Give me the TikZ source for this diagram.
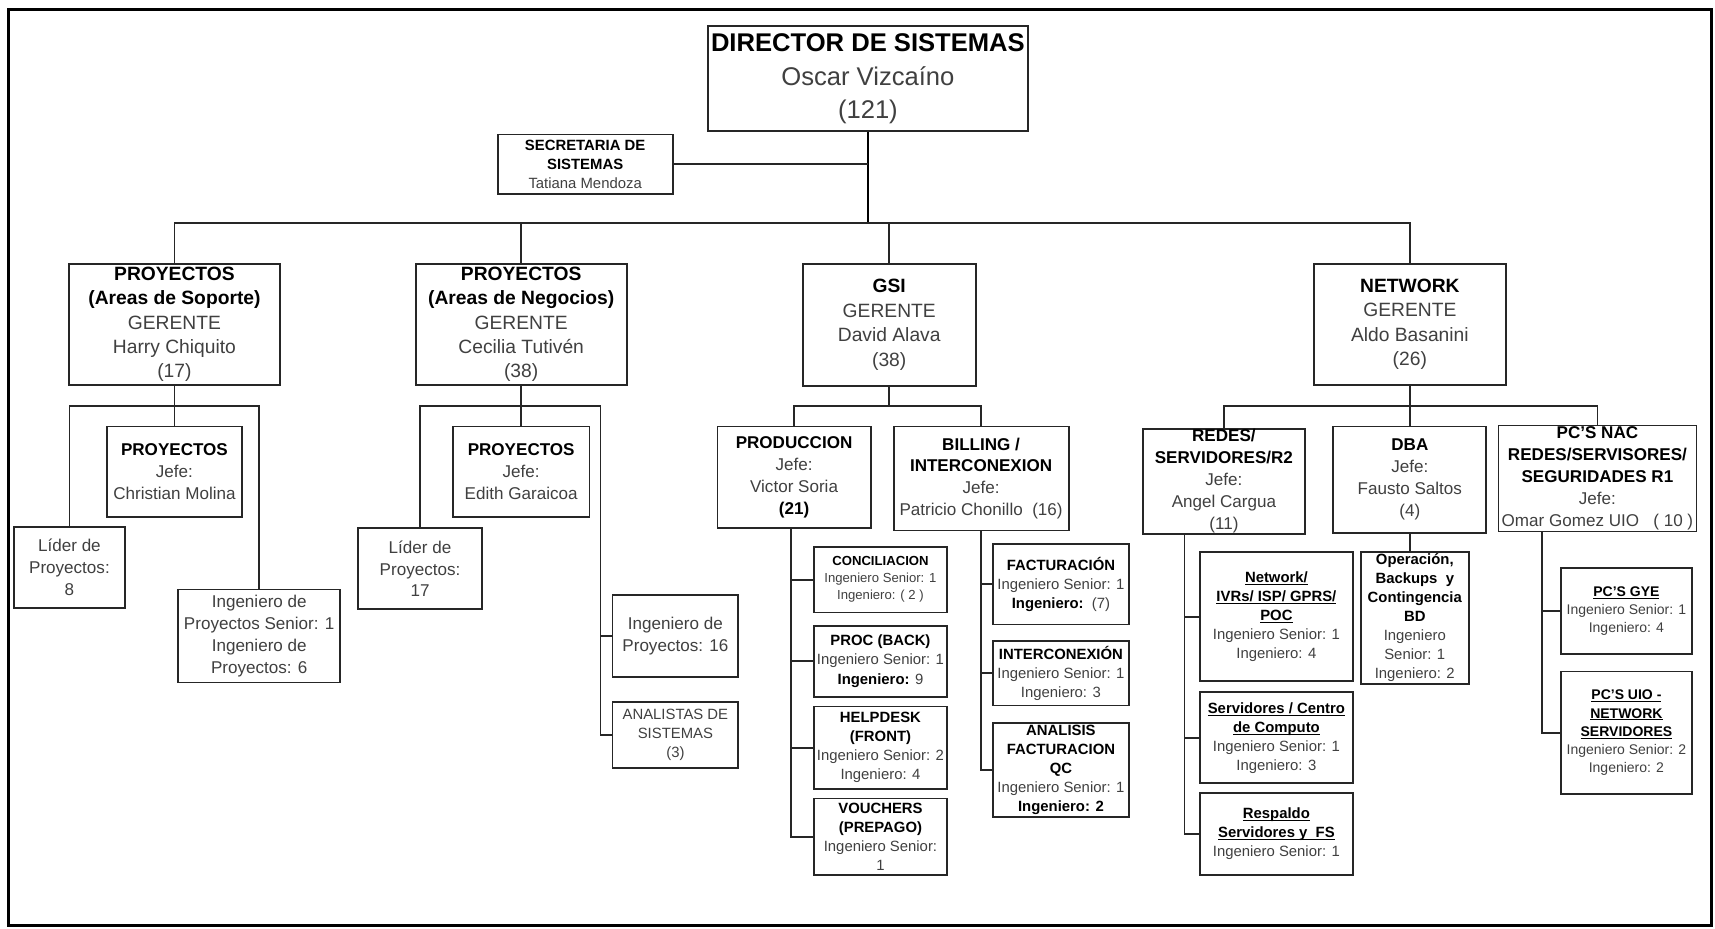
\documentclass[tikz,border=0pt]{standalone}
\usepackage{fontspec}
\setmainfont{Liberation Sans}
\newcommand{\tit}[1]{\textbf{\color{black}#1}}
\newcommand{\tul}[1]{\textbf{\color{black}\setbox0\hbox{#1}\rlap{\rule[-0.17em]{\wd0}{0.07em}}\box0}}
\tikzset{
	box/.style={draw=black!85,line width=0.85pt,fill=white,align=center,inner sep=0pt,text=black!75},
	sz/.style 2 args={minimum width=#1*0.5pt,minimum height=#2*0.5pt},
	fdir/.style={font=\fontsize{11.7}{15.2}\selectfont},
	fmgr/.style={font=\fontsize{8.8}{11.15}\selectfont},
	fjefe/.style={font=\fontsize{7.8}{10}\selectfont},
	fsub/.style={font=\fontsize{6.8}{8.7}\selectfont},
	ftiny/.style={font=\fontsize{6}{7.75}\selectfont},
	fpc/.style={font=\fontsize{6.4}{8.3}\selectfont},
	lnk/.style={draw=black!85,line width=0.85pt}
}
\begin{document}
\begin{tikzpicture}[x=0.5pt,y=-0.5pt]
	%\draw[help lines] (0,0) grid[step=100] (1568,849);
	\useasboundingbox (0,0) rectangle (1568,849);
	\draw[line width=1.4pt] (8,9) rectangle (1565,846);
	% direccion
	\node[box,fdir,sz={293}{96}] (dir) at (793.5,72) {\tit{DIRECTOR DE SISTEMAS}\\Oscar Vizcaíno\\(121)};
	\node[box,fsub,sz={160}{54}] (sec) at (535,150) {\tit{SECRETARIA DE}\\\tit{SISTEMAS}\\Tatiana Mendoza};
	% gerencias
	\node[box,fmgr,sz={193}{111}] (sop) at (159.5,296.5) {\tit{PROYECTOS}\\\tit{(Areas de Soporte)}\\GERENTE\\Harry Chiquito\\(17)};
	\node[box,fmgr,sz={193}{111}] (neg) at (476.5,296.5) {\tit{PROYECTOS}\\\tit{(Areas de Negocios)}\\GERENTE\\Cecilia Tutivén\\(38)};
	\node[box,fmgr,sz={158}{112}] (gsi) at (813,297) {\tit{GSI}\\GERENTE\\David Alava\\(38)};
	\node[box,fmgr,sz={176}{111}] (net) at (1289,296.5) {\tit{NETWORK}\\GERENTE\\Aldo Basanini\\(26)};
	% soporte
	\node[box,fjefe,sz={123}{83}] (sopjefe) at (159.5,431.5) {\tit{PROYECTOS}\\Jefe:\\Christian Molina};
	\node[box,fjefe,sz={101}{74}] (lid1) at (63.5,519) {Líder de\\Proyectos:\\8};
	\node[box,fjefe,sz={148}{85}] (ing1) at (237,581.5) {Ingeniero de\\Proyectos Senior: 1\\Ingeniero de\\Proyectos: 6};
	% negocios
	\node[box,fjefe,sz={125}{83}] (negjefe) at (476.5,431.5) {\tit{PROYECTOS}\\Jefe:\\Edith Garaicoa};
	\node[box,fjefe,sz={114}{74}] (lid2) at (384,520) {Líder de\\Proyectos:\\17};
	\node[box,fjefe,sz={115}{75}] (ing2) at (617.5,581.5) {Ingeniero de\\Proyectos: 16};
	\node[box,fsub,sz={115}{60}] (ana) at (617.5,672) {ANALISTAS DE\\SISTEMAS\\(3)};
	% gsi
	\node[box,fjefe,sz={140}{93}] (prod) at (726,436.5) {\tit{PRODUCCION}\\Jefe:\\Victor Soria\\\tit{(21)}};
	\node[box,fjefe,sz={160}{95}] (bill) at (897,437.5) {\tit{BILLING /}\\\tit{INTERCONEXION}\\Jefe:\\Patricio Chonillo~~(16)};
	\node[box,ftiny,sz={122}{60}] (conc) at (805,530) {\tit{CONCILIACION}\\Ingeniero Senior: 1\\Ingeniero: ( 2 )};
	\node[box,fsub,sz={122}{65}] (proc) at (805,604.5) {\tit{PROC (BACK)}\\Ingeniero Senior: 1\\\tit{Ingeniero:} 9};
	\node[box,fsub,sz={122}{75}] (help) at (805,683.5) {\tit{HELPDESK}\\\tit{(FRONT)}\\Ingeniero Senior: 2\\Ingeniero: 4};
	\node[box,fsub,sz={122}{70}] (vouch) at (805,765) {\tit{VOUCHERS}\\\tit{(PREPAGO)}\\Ingeniero Senior:\\1};
	\node[box,fsub,sz={124}{74}] (fact) at (970,534) {\tit{FACTURACIÓN}\\Ingeniero Senior: 1\\\tit{Ingeniero:}~~(7)};
	\node[box,fsub,sz={124}{59}] (inter) at (970,615.5) {\tit{INTERCONEXIÓN}\\Ingeniero Senior: 1\\Ingeniero: 3};
	\node[box,fsub,sz={124}{86}] (anal) at (970,704) {\tit{ANALISIS}\\\tit{FACTURACION}\\\tit{QC}\\Ingeniero Senior: 1\\\tit{Ingeniero: 2}};
	% network
	\node[box,fjefe,sz={148}{96}] (redes) at (1119,440) {\tit{REDES/}\\\tit{SERVIDORES/R2}\\Jefe:\\Angel Cargua\\(11)};
	\node[box,fjefe,sz={140}{97}] (dba) at (1289,438.5) {\tit{DBA}\\Jefe:\\Fausto Saltos\\(4)};
	\node[box,fjefe,sz={181}{97}] (nac) at (1460.5,437.5) {\tit{PC'S NAC}\\\tit{REDES/SERVISORES/}\\\tit{SEGURIDADES R1}\\Jefe:\\Omar Gomez UIO~~~( 10 )};
	\node[box,fsub,sz={140}{118}] (nivr) at (1167,564) {\tul{Network/}\\\tul{IVRs/ ISP/ GPRS/}\\\tul{POC}\\Ingeniero Senior: 1\\Ingeniero: 4};
	\node[box,fsub,sz={140}{83}] (srv) at (1167,674.5) {\tul{Servidores / Centro}\\\tul{de Computo}\\Ingeniero Senior: 1\\Ingeniero: 3};
	\node[box,fsub,sz={140}{75}] (resp) at (1167,762.5) {\tul{Respaldo}\\\tul{Servidores y~~FS}\\Ingeniero Senior: 1};
	\node[box,fsub,sz={99}{120}] (oper) at (1293.5,565) {\tit{Operación,}\\\tit{Backups~~y}\\\tit{Contingencia}\\\tit{BD}\\Ingeniero\\Senior: 1\\Ingeniero: 2};
	\node[box,fpc,sz={120}{79}] (gye) at (1487,558.5) {\tul{PC'S GYE}\\Ingeniero Senior: 1\\Ingeniero: 4};
	\node[box,fpc,sz={120}{112}] (uio) at (1487,670) {\tul{PC'S UIO -}\\\tul{NETWORK}\\\tul{SERVIDORES}\\Ingeniero Senior: 2\\Ingeniero: 2};
	% lineas
	\coordinate (topbus) at (793.5,204);
	\draw[lnk,line width=1pt,draw=black] (dir.south) -- (topbus);
	\draw[lnk] (sec.east) -- (sec.east -| dir.south);
	\foreach \g in {sop,neg,gsi,net}
		\draw[lnk] (\g.north) |- (topbus);
	\coordinate (sopbus) at (159.5,371);
	\draw[lnk] (sop.south) -- (sopjefe.north);
	\draw[lnk] (lid1.north) |- (sopbus) -| (ing1.north);
	\coordinate (negbus) at (476.5,371);
	\coordinate (negr) at (549,371);
	\draw[lnk] (neg.south) -- (negjefe.north);
	\draw[lnk] (lid2.north) |- (negbus) -- (negr) |- (ing2.west);
	\draw[lnk] (negr) |- (ana.west);
	\coordinate (gsibus) at (813,371);
	\draw[lnk] (gsi.south) -- (gsibus);
	\draw[lnk] (prod.north) |- (gsibus) -| (bill.north);
	\foreach \c in {conc,proc,help,vouch}
		\draw[lnk] ([xshift=-1.5pt]prod.south) |- (\c.west);
	\foreach \c in {fact,inter,anal}
		\draw[lnk] (bill.south) |- (\c.west);
	\coordinate (netbus) at (1289,371);
	\draw[lnk] (net.south) -- (dba.north);
	\draw[lnk] (redes.north) |- (netbus) -| (nac.north);
	\foreach \c in {nivr,srv,resp}
		\draw[lnk] ([xshift=-18pt]redes.south) |- (\c.west);
	\draw[lnk] (dba.south) -- (dba.south |- oper.north);
	\foreach \c in {gye,uio}
		\draw[lnk] ([xshift=-25.25pt]nac.south) |- (\c.west);
\end{tikzpicture}
\end{document}
